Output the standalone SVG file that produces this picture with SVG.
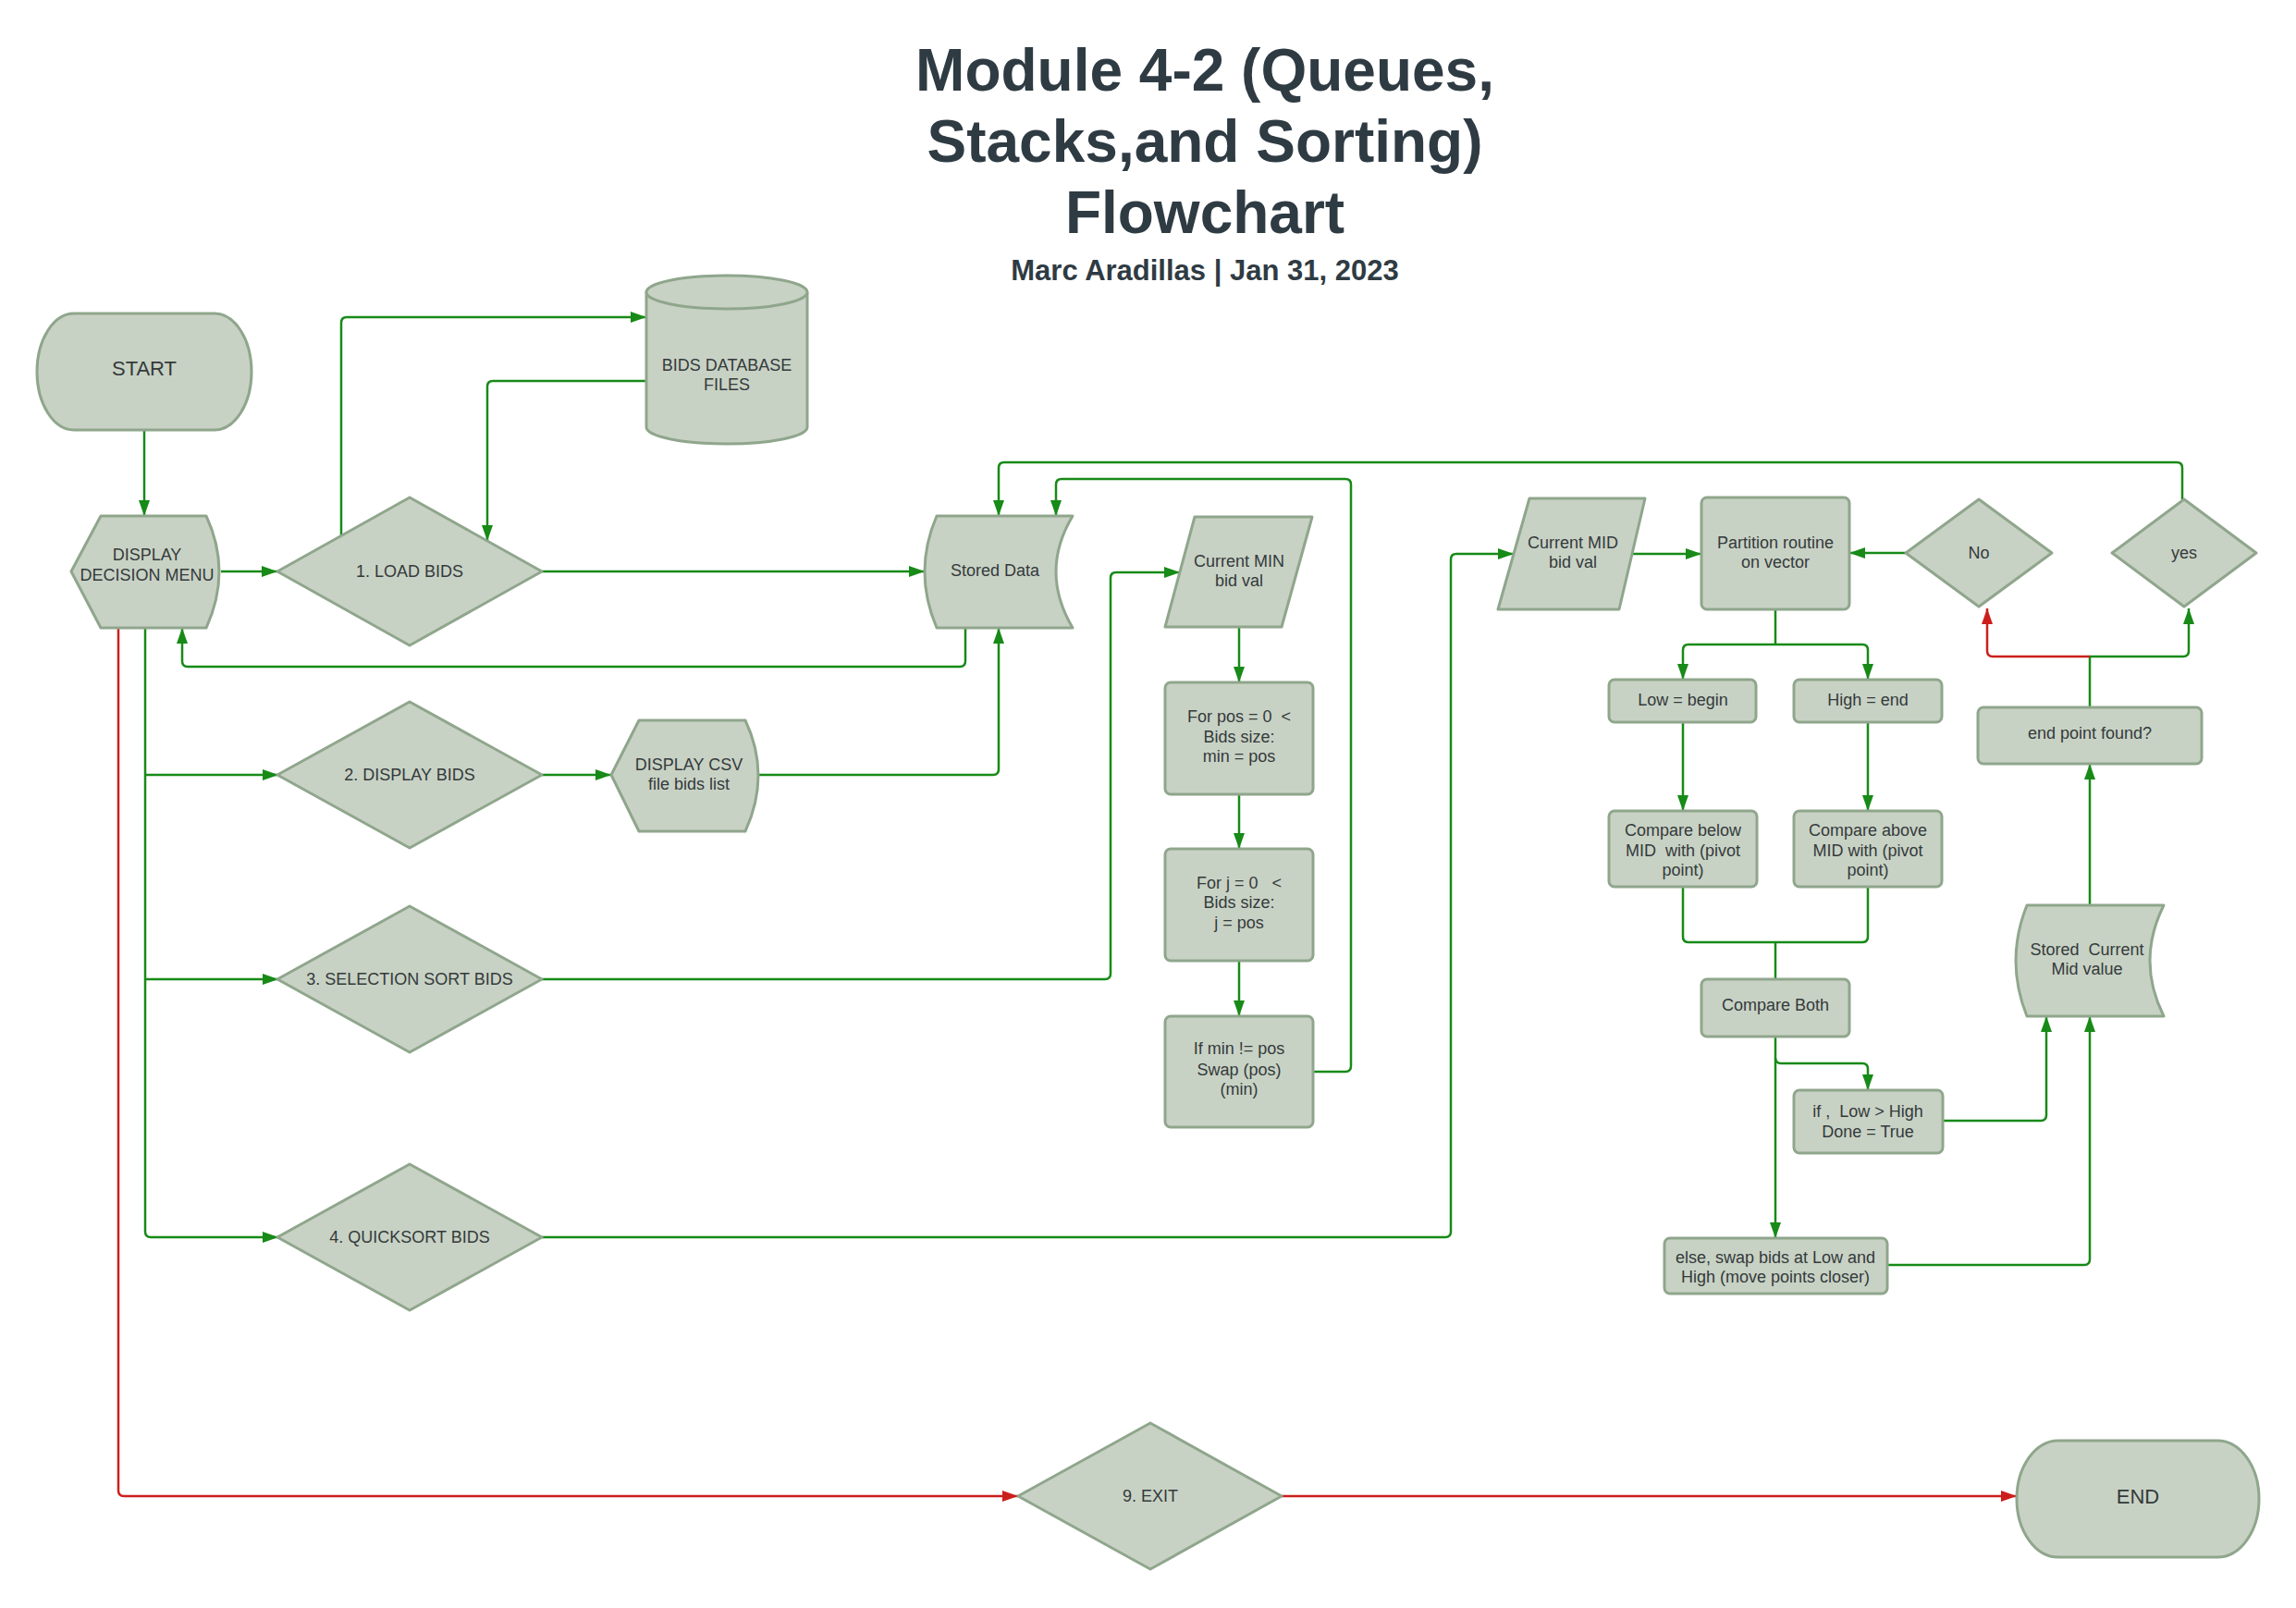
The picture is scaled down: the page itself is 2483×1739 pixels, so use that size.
<svg xmlns="http://www.w3.org/2000/svg" width="2483" height="1739" viewBox="0 0 2483 1739">
<defs>
<style>
.n{fill:#c8d2c4;stroke:#8fa68c;stroke-width:3;stroke-linejoin:round}
.t{font-family:"Liberation Sans",Arial,sans-serif;font-size:18px;fill:#343a3c;text-anchor:middle;white-space:pre}
.tl{font-family:"Liberation Sans",Arial,sans-serif;font-size:22px;fill:#343a3c;text-anchor:middle}
.title{font-family:"Liberation Sans",Arial,sans-serif;font-weight:bold;font-size:64px;fill:#2f3b43;text-anchor:middle}
.sub{font-family:"Liberation Sans",Arial,sans-serif;font-weight:bold;font-size:31px;fill:#2f3b43;text-anchor:middle}
.g{fill:none;stroke:#178a17;stroke-width:2.5;stroke-linejoin:round}
.r{fill:none;stroke:#cc1f1c;stroke-width:2.5;stroke-linejoin:round}
.ga{marker-end:url(#ag)}
.ra{marker-end:url(#ar)}
</style>
<marker id="ag" viewBox="0 0 17 12" refX="17" refY="6" markerWidth="17" markerHeight="12" markerUnits="userSpaceOnUse" orient="auto"><path d="M0,0 L17,6 L0,12 Z" fill="#178a17"/></marker>
<marker id="ar" viewBox="0 0 17 12" refX="17" refY="6" markerWidth="17" markerHeight="12" markerUnits="userSpaceOnUse" orient="auto"><path d="M0,0 L17,6 L0,12 Z" fill="#cc1f1c"/></marker>
</defs>
<rect width="2483" height="1739" fill="#ffffff"/>

<g id="title">
<text class="title" x="1303" y="98">Module 4-2 (Queues,</text>
<text class="title" x="1303" y="175">Stacks,and Sorting)</text>
<text class="title" x="1303" y="252">Flowchart</text>
<text class="sub" x="1303" y="303">Marc Aradillas | Jan 31, 2023</text>
</g>

<g id="connectors">
<path class="g ga" d="M156,465 V558"/>
<path class="g ga" d="M239,618 H300"/>
<path class="g ga" d="M369,580 V349 Q369,343 375,343 H699"/>
<path class="g ga" d="M699,412 H533 Q527,412 527,418 V585"/>
<path class="g ga" d="M586,618 H1000"/>
<path class="g ga" d="M1044,679 V715 Q1044,721 1038,721 H203 Q197,721 197,715 V679"/>
<path class="g ga" d="M157,679 V1332 Q157,1338 163,1338 H301"/>
<path class="g ga" d="M157,838 H301"/>
<path class="g ga" d="M157,1059 H301"/>
<path class="g ga" d="M586,838 H661"/>
<path class="g ga" d="M820,838 H1074 Q1080,838 1080,832 V679"/>
<path class="g ga" d="M586,1059 H1195 Q1201,1059 1201,1053 V625 Q1201,619 1207,619 H1276"/>
<path class="g ga" d="M1340,678 V738"/>
<path class="g ga" d="M1340,859 V918"/>
<path class="g ga" d="M1340,1039 V1099"/>
<path class="g ga" d="M1420,1159 H1455 Q1461,1159 1461,1153 V524 Q1461,518 1455,518 H1148 Q1142,518 1142,524 V558"/>
<path class="g ga" d="M586,1338 H1563 Q1569,1338 1569,1332 V605 Q1569,599 1575,599 H1637"/>
<path class="g ga" d="M1765,599 H1840"/>
<path class="g ga" d="M2061,598 H2000"/>
<path class="g" d="M1920,659 V697"/>
<path class="g ga" d="M1920,697 H1826 Q1820,697 1820,703 V735"/>
<path class="g ga" d="M1920,697 H2014 Q2020,697 2020,703 V735"/>
<path class="g ga" d="M1820,781 V877"/>
<path class="g ga" d="M2020,781 V877"/>
<path class="g" d="M1820,959 V1013 Q1820,1019 1826,1019 H2014 Q2020,1019 2020,1013 V959"/>
<path class="g" d="M1920,1019 V1059"/>
<path class="g ga" d="M1920,1121 V1339"/>
<path class="g ga" d="M1920,1144 Q1920,1150 1926,1150 H2014 Q2020,1150 2020,1156 V1179"/>
<path class="g ga" d="M2101,1212 H2207 Q2213,1212 2213,1206 V1099"/>
<path class="g ga" d="M2041,1368 H2254 Q2260,1368 2260,1362 V1099"/>
<path class="g ga" d="M2260,979 V826"/>
<path class="g ga" d="M2260,765 V710 H2361 Q2367,710 2367,704 V658"/>
<path class="r ra" d="M2260,710 H2155 Q2149,710 2149,704 V658"/>
<path class="g ga" d="M2360,540 V506 Q2360,500 2354,500 H1086 Q1080,500 1080,506 V558"/>
<path class="r ra" d="M128,679 V1612 Q128,1618 134,1618 H1101"/>
<path class="r ra" d="M1386,1618 H2181"/>
</g>

<g id="start">
<rect class="n" x="40" y="339" width="232" height="126" rx="40" ry="63"/>
<text class="tl" x="156" y="406">START</text>
</g>

<g id="display-menu">
<path class="n" d="M109,558 H223 Q251,618 223,679 H109 L77,618 Z"/>
<text class="t" x="159" y="606">DISPLAY</text>
<text class="t" x="159" y="628">DECISION MENU</text>
</g>

<g id="load-bids">
<polygon class="n" points="443,538 586,618 443,698 300,618"/>
<text class="t" x="443" y="624">1. LOAD BIDS</text>
</g>

<g id="bids-database">
<path class="n" d="M699,316 V462 A87,18 0 0 0 873,462 V316 A87,18 0 0 0 699,316 Z"/>
<path class="n" d="M699,316 A87,18 0 0 0 873,316" fill="none"/>
<text class="t" x="786" y="401">BIDS DATABASE</text>
<text class="t" x="786" y="422">FILES</text>
</g>

<g id="stored-data">
<path class="n" d="M1013,558 H1160 Q1124,618 1160,679 H1013 Q987,618 1013,558 Z"/>
<text class="t" x="1076" y="623">Stored Data</text>
</g>

<g id="display-bids">
<polygon class="n" points="443,759 586,838 443,917 300,838"/>
<text class="t" x="443" y="844">2. DISPLAY BIDS</text>
</g>

<g id="display-csv">
<path class="n" d="M691,779 H806 Q834,838 806,899 H691 L661,838 Z"/>
<text class="t" x="745" y="833">DISPLAY CSV</text>
<text class="t" x="745" y="854">file bids list</text>
</g>

<g id="selection-sort">
<polygon class="n" points="443,980 586,1059 443,1138 300,1059"/>
<text class="t" x="443" y="1065">3. SELECTION SORT BIDS</text>
</g>

<g id="quicksort">
<polygon class="n" points="443,1259 586,1338 443,1417 300,1338"/>
<text class="t" x="443" y="1344">4. QUICKSORT BIDS</text>
</g>

<g id="current-min">
<polygon class="n" points="1292,559 1419,559 1386,678 1260,678"/>
<text class="t" x="1340" y="613">Current MIN</text>
<text class="t" x="1340" y="634">bid val</text>
</g>

<g id="for-pos">
<rect class="n" x="1260" y="738" width="160" height="121" rx="6"/>
<text class="t" x="1340" y="781">For pos = 0  &lt;</text>
<text class="t" x="1340" y="803">Bids size:</text>
<text class="t" x="1340" y="824">min = pos</text>
</g>

<g id="for-j">
<rect class="n" x="1260" y="918" width="160" height="121" rx="6"/>
<text class="t" x="1340" y="961">For j = 0   &lt;</text>
<text class="t" x="1340" y="982">Bids size:</text>
<text class="t" x="1340" y="1004">j = pos</text>
</g>

<g id="if-min">
<rect class="n" x="1260" y="1099" width="160" height="120" rx="6"/>
<text class="t" x="1340" y="1140">If min != pos</text>
<text class="t" x="1340" y="1163">Swap (pos)</text>
<text class="t" x="1340" y="1184">(min)</text>
</g>

<g id="current-mid">
<polygon class="n" points="1654,539 1779,539 1751,659 1620,659"/>
<text class="t" x="1701" y="593">Current MID</text>
<text class="t" x="1701" y="614">bid val</text>
</g>

<g id="partition">
<rect class="n" x="1840" y="538" width="160" height="121" rx="6"/>
<text class="t" x="1920" y="593">Partition routine</text>
<text class="t" x="1920" y="614">on vector</text>
</g>

<g id="no">
<polygon class="n" points="2140,540 2219,598 2140,656 2061,598"/>
<text class="t" x="2140" y="604">No</text>
</g>

<g id="yes">
<polygon class="n" points="2362,540 2440,598 2362,656 2284,598"/>
<text class="t" x="2362" y="604">yes</text>
</g>

<g id="low-begin">
<rect class="n" x="1740" y="735" width="159" height="46" rx="6"/>
<text class="t" x="1820" y="763">Low = begin</text>
</g>

<g id="high-end">
<rect class="n" x="1940" y="735" width="160" height="46" rx="6"/>
<text class="t" x="2020" y="763">High = end</text>
</g>

<g id="compare-below">
<rect class="n" x="1740" y="877" width="160" height="82" rx="6"/>
<text class="t" x="1820" y="904">Compare below</text>
<text class="t" x="1820" y="926">MID  with (pivot</text>
<text class="t" x="1820" y="947">point)</text>
</g>

<g id="compare-above">
<rect class="n" x="1940" y="877" width="160" height="82" rx="6"/>
<text class="t" x="2020" y="904">Compare above</text>
<text class="t" x="2020" y="926">MID with (pivot</text>
<text class="t" x="2020" y="947">point)</text>
</g>

<g id="compare-both">
<rect class="n" x="1840" y="1059" width="160" height="62" rx="6"/>
<text class="t" x="1920" y="1093">Compare Both</text>
</g>

<g id="if-low-high">
<rect class="n" x="1940" y="1179" width="161" height="68" rx="6"/>
<text class="t" x="2020" y="1208">if ,  Low &gt; High</text>
<text class="t" x="2020" y="1230">Done = True</text>
</g>

<g id="else-swap">
<rect class="n" x="1800" y="1339" width="241" height="60" rx="6"/>
<text class="t" x="1920" y="1366">else, swap bids at Low and</text>
<text class="t" x="1920" y="1387">High (move points closer)</text>
</g>

<g id="stored-mid">
<path class="n" d="M2192,979 H2340 Q2310,1039 2340,1099 H2192 Q2168,1039 2192,979 Z"/>
<text class="t" x="2257" y="1033">Stored  Current</text>
<text class="t" x="2257" y="1054">Mid value</text>
</g>

<g id="end-point">
<rect class="n" x="2139" y="765" width="242" height="61" rx="6"/>
<text class="t" x="2260" y="799">end point found?</text>
</g>

<g id="exit">
<polygon class="n" points="1244,1539 1386,1618 1244,1697 1101,1618"/>
<text class="t" x="1244" y="1624">9. EXIT</text>
</g>

<g id="end">
<rect class="n" x="2181" y="1558" width="262" height="126" rx="45" ry="63"/>
<text class="tl" x="2312" y="1626">END</text>
</g>
</svg>
